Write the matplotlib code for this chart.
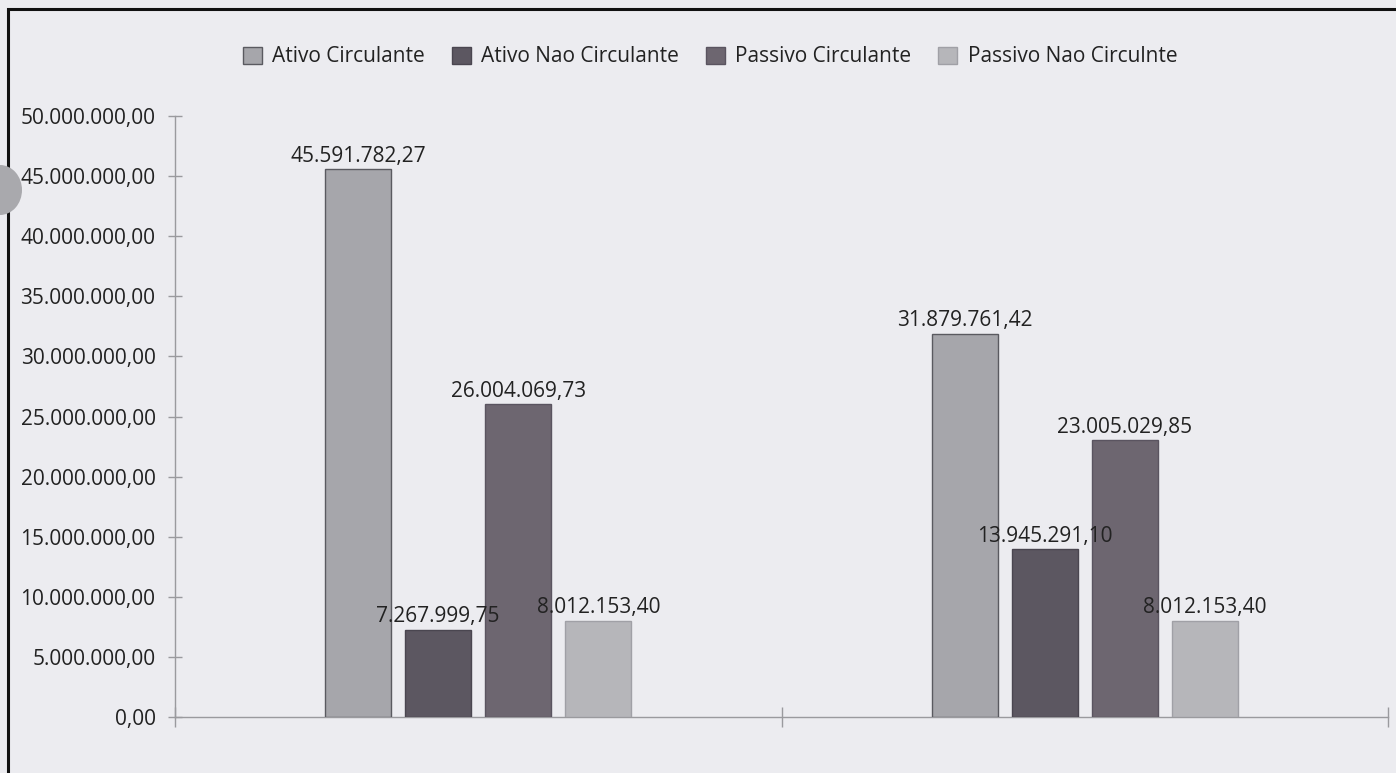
import matplotlib
matplotlib.use("Agg")
import matplotlib.pyplot as plt
from matplotlib.patches import Rectangle, Ellipse
import numpy as np

categories = ["", ""]
series_names = ["Ativo Circulante", "Ativo Nao Circulante", "Passivo Circulante", "Passivo Nao Circulnte"]
ativo_circulante = [45591782.27, 31879761.42]
ativo_nao_circulante = [7267999.75, 13945291.10]
passivo_circulante = [26004069.73, 23005029.85]
passivo_nao_circulante = [8012153.40, 8012153.40]
y_ticks = [0, 5e6, 10e6, 15e6, 20e6, 25e6, 30e6, 35e6, 40e6, 45e6, 50e6]

series_values = [ativo_circulante, ativo_nao_circulante, passivo_circulante, passivo_nao_circulante]
colors = ["#a6a6ab", "#5c5761", "#6d6670", "#b6b6ba"]
edges = ["#5a5a60", "#4a4650", "#5a5460", "#a0a0a6"]

plt.rcParams['font.family'] = ['Open Sans', 'DejaVu Sans']
BG = "#ececf0"
TXT = "#222222"
FS = 15

def br(v):
    s = f"{v:,.2f}"
    return s.replace(",", "X").replace(".", ",").replace("X", ".")

W, H = 1396, 773
fig = plt.figure(figsize=(W / 100, H / 100), dpi=100, facecolor=BG)
ax = fig.add_axes([175 / W, 1 - 717 / H, (1388 - 175) / W, (717 - 116) / H])
ax.set_facecolor(BG)

x = np.arange(len(categories))
bw = 0.109
step = 0.132
for i, (name, vals) in enumerate(zip(series_names, series_values)):
    pos = x + (i - 1.5) * step
    ax.bar(pos, vals, width=bw, color=colors[i], edgecolor=edges[i],
           linewidth=1.0, label=name, zorder=3)
    for p, v in zip(pos, vals):
        ax.text(p, v + 200000, br(v), ha="center", va="bottom", fontsize=FS,
                color=TXT, zorder=4)

ax.set_xlim(-0.5, 1.5)
ax.set_ylim(0, 50e6)
ax.set_yticks(y_ticks)
ax.set_yticklabels([br(v) for v in y_ticks])
ax.set_xticks([-0.5, 0.5, 1.5])
ax.set_xticklabels(["", "", ""])
ax.tick_params(axis="y", direction="inout", length=10, width=1, color="#9a9a9e",
               labelsize=FS, labelcolor=TXT, pad=9)
ax.tick_params(axis="x", direction="inout", length=14, width=1, color="#9a9a9e")
for s in ["top", "right"]:
    ax.spines[s].set_visible(False)
for s in ["left", "bottom"]:
    ax.spines[s].set_color("#9a9a9e")
    ax.spines[s].set_linewidth(1.0)

handles, labels = ax.get_legend_handles_labels()
fig.legend(handles, labels, loc="center", bbox_to_anchor=(710 / W, 1 - 57 / H),
           ncol=4, frameon=False, fontsize=FS, handlelength=0.9, handleheight=0.9,
           handletextpad=0.5, columnspacing=1.3, labelcolor=TXT)

# outer frame of the scanned chart
fig.patches.append(Rectangle((8 / W, -0.05), 1.1, 1 - 9 / H + 0.05,
                             transform=fig.transFigure, fill=False,
                             edgecolor="#111111", linewidth=2.2))
# scan artifact (punch hole)
fig.patches.append(Ellipse((0 / W, 1 - 190 / H), 44 / W, 50 / H, transform=fig.transFigure,
                           facecolor="#a9a9ad", edgecolor="none"))

fig.savefig("out.png", dpi=100, facecolor=BG)
